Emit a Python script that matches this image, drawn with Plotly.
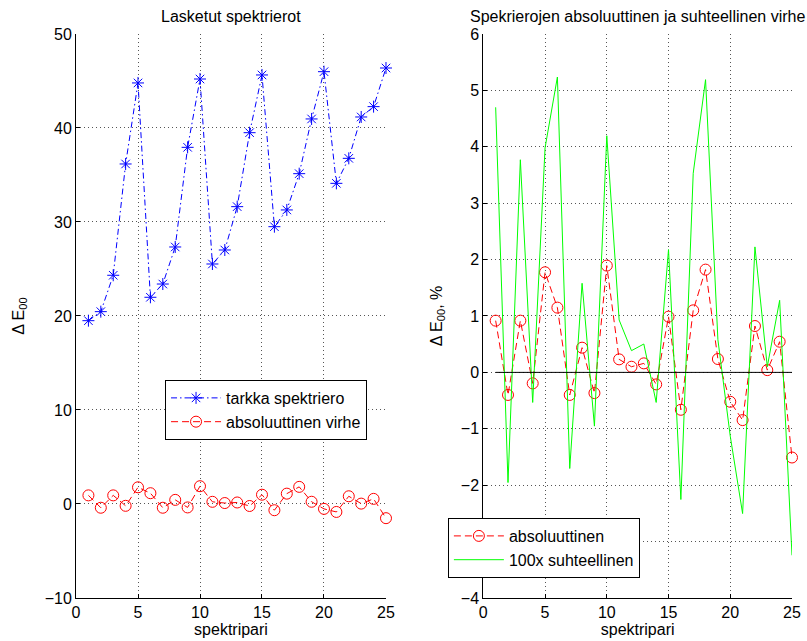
import plotly.graph_objects as go

# Data
pairs = list(range(1, 26))
tarkka = [19.5, 20.46, 24.33, 36.17, 44.79, 21.99, 23.4, 27.34, 37.94, 45.21,
          25.53, 27.02, 31.63, 39.5, 45.64, 29.5, 31.28, 35.14, 40.96, 45.99,
          34.11, 36.77, 41.17, 42.27, 46.38]
absoluuttinen = [0.917, -0.40, 0.917, -0.195, 1.775, 1.148, -0.40, 0.438, -0.367, 1.893,
                 0.231, 0.10, 0.16, -0.213, 0.988, -0.663, 1.10, 1.822, 0.237, -0.521,
                 -0.846, 0.822, 0.04, 0.544, -1.509]
suhteellinen100 = [4.70, -1.953, 3.77, -0.533, 3.98, 5.237, -1.704, 1.58, -0.953, 4.195,
                   0.929, 0.385, 0.503, -0.533, 2.178, -2.254, 3.53, 5.19, 0.58, -1.13,
                   -2.503, 2.225, 0.10, 1.278, -3.243]
zero_x = [1, 25]
zero_y = [0, 0]

left_yticks = [-10, 0, 10, 20, 30, 40, 50]
right_yticks = [-4, -3, -2, -1, 0, 1, 2, 3, 4, 5, 6]
xticks = [0, 5, 10, 15, 20, 25]

FONT = "Liberation Sans, Arial, Helvetica, sans-serif"
FS = 16
BLUE = "#0000ff"
RED = "#ff0000"
GREEN = "#00ff00"

fig = go.Figure()

fig.add_trace(go.Scatter(
    x=pairs, y=tarkka, mode="lines+markers", name="tarkka spektriero",
    line=dict(color=BLUE, width=1, dash="6px,3px,1.5px,3px"),
    marker=dict(symbol="asterisk-open", size=10, color=BLUE, line=dict(color=BLUE, width=1)),
    cliponaxis=False, xaxis="x", yaxis="y", legend="legend"))
fig.add_trace(go.Scatter(
    x=pairs, y=absoluuttinen, mode="lines+markers", name="absoluuttinen virhe",
    line=dict(color=RED, width=1, dash="7px,4px"),
    marker=dict(symbol="circle-open", size=11, color=RED, line=dict(color=RED, width=1)),
    cliponaxis=False, xaxis="x", yaxis="y", legend="legend"))

fig.add_trace(go.Scatter(
    x=pairs, y=absoluuttinen, mode="lines+markers", name="absoluuttinen",
    line=dict(color=RED, width=1, dash="7px,4px"),
    marker=dict(symbol="circle-open", size=11, color=RED, line=dict(color=RED, width=1)),
    cliponaxis=False, xaxis="x2", yaxis="y2", legend="legend2"))
fig.add_trace(go.Scatter(
    x=pairs, y=suhteellinen100, mode="lines", name="100x suhteellinen",
    line=dict(color=GREEN, width=1),
    xaxis="x2", yaxis="y2", legend="legend2"))
fig.add_trace(go.Scatter(
    x=zero_x, y=zero_y, mode="lines", showlegend=False, hoverinfo="skip",
    line=dict(color="black", width=1),
    xaxis="x2", yaxis="y2"))

axis_common = dict(
    showline=True, linecolor="black", linewidth=1,
    ticks="inside", ticklen=4, tickcolor="black", tickwidth=1,
    showgrid=True, gridcolor="#555555", gridwidth=1, griddash="1px,3px",
    zeroline=False, mirror=False, automargin=False,
    tickfont=dict(family=FONT, size=FS, color="black"),
)

fig.update_layout(
    width=807, height=641, autosize=False,
    margin=dict(l=0, r=0, t=0, b=0),
    paper_bgcolor="white", plot_bgcolor="white",
    font=dict(family=FONT, size=FS, color="black"),
    xaxis=dict(domain=[0.0942, 0.4783], range=[0, 25], tickvals=xticks, anchor="y",
               title=dict(text="spektripari", standoff=2, font=dict(family=FONT, size=FS)),
               **axis_common),
    yaxis=dict(domain=[0.0671, 0.947], range=[-10, 50], tickvals=left_yticks, anchor="x",
               title=dict(text="Δ E<sub>00</sub>", standoff=16, font=dict(family=FONT, size=FS)),
               **axis_common),
    xaxis2=dict(domain=[0.5989, 0.9814], range=[0, 25], tickvals=xticks, anchor="y2",
                title=dict(text="spektripari", standoff=2, font=dict(family=FONT, size=FS)),
                **axis_common),
    yaxis2=dict(domain=[0.0671, 0.947], range=[-4, 6], tickvals=right_yticks, anchor="x2",
                title=dict(text="Δ E<sub>00</sub>, %", standoff=14, font=dict(family=FONT, size=FS)),
                **axis_common),
    legend=dict(x=0.2045, y=0.4072, xanchor="left", yanchor="top",
                bgcolor="white", bordercolor="black", borderwidth=1,
                font=dict(family=FONT, size=FS), itemwidth=50, tracegroupgap=0),
    legend2=dict(x=0.555, y=0.1919, xanchor="left", yanchor="top",
                 bgcolor="white", bordercolor="black", borderwidth=1,
                 font=dict(family=FONT, size=FS), itemwidth=50, tracegroupgap=0),
    annotations=[
        dict(text="Lasketut spektrierot", x=(0.0942 + 0.4783) / 2, y=1 - 17 / 641,
             xref="paper", yref="paper", xanchor="center", yanchor="middle",
             showarrow=False, font=dict(family=FONT, size=FS)),
        dict(text="Spekrierojen absoluuttinen ja suhteellinen virhe",
             x=(0.5989 + 0.9814) / 2, y=1 - 17 / 641,
             xref="paper", yref="paper", xanchor="center", yanchor="middle",
             showarrow=False, font=dict(family=FONT, size=FS)),
    ],
)

fig.write_html("out.html")
